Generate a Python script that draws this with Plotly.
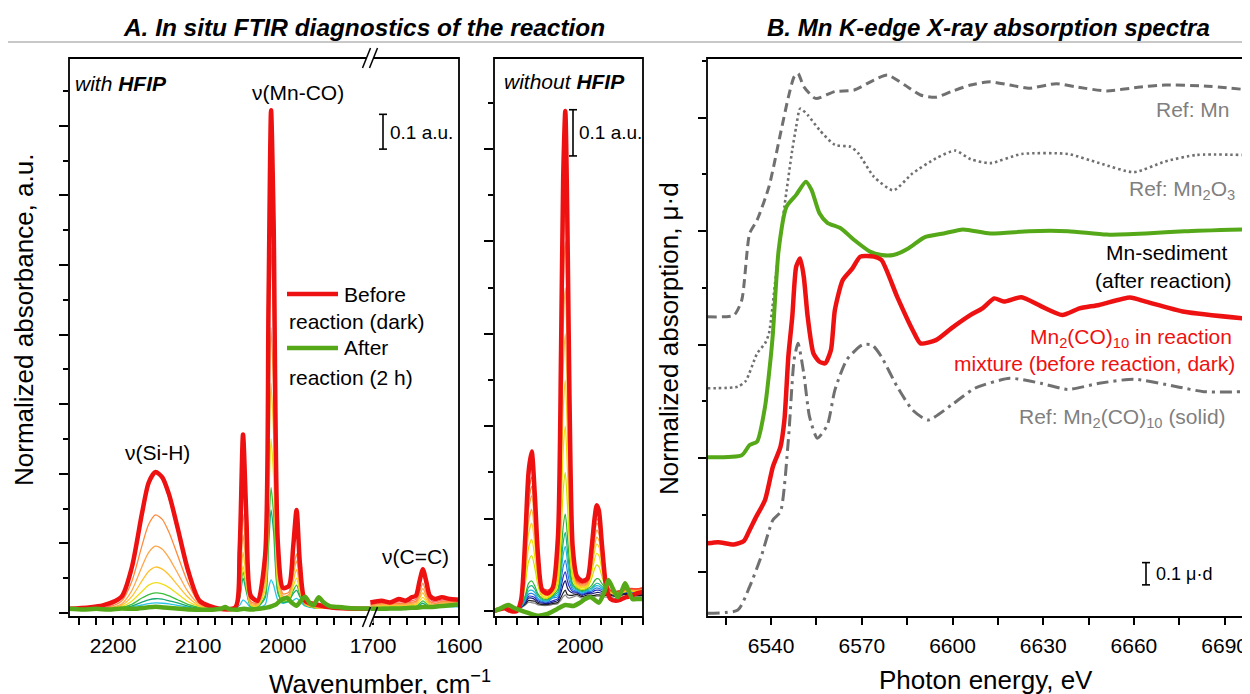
import plotly.graph_objects as go

W, H = 1250, 694
OFF = 8  # browser body margin compensation
FONT = "Liberation Sans, Arial, sans-serif"

# ---------------- Panel A (with HFIP): 2252-1898 cm-1 segment ----------------
WN_A = [2252, 2212, 2190, 2178, 2166, 2158, 2150, 2142, 2134, 2124, 2112, 2098, 2075, 2056, 2051,
        2047, 2043, 2038, 2030, 2021, 2017, 2014, 2011, 2006, 2000, 1993, 1988, 1984, 1980, 1974,
        1962, 1940, 1898]
A_BEFORE = [.012, .022, .047, .13, .285, .375, .405, .39, .34, .245, .125, .035, .012, .016, .18,
            .513, .27, .05, .035, .165, .89, 1.445, 1.12, .2, .072, .078, .19, .296, .14, .035,
            .025, .015, .012]
A_T1 = [.012, .013, .043, .125, .273, .363, .402, .383, .328, .234, .121, .032, .012, .014, .165,
        .485, .253, .042, .033, .157, .847, 1.38, 1.065, .194, .07, .075, .182, .28, .132, .03,
        .02, .013, .012]
A_T2 = [.012, .013, .034, .09, .193, .255, .282, .269, .231, .166, .088, .028, .012, .014, .101,
        .285, .153, .033, .028, .123, .648, 1.05, .812, .15, .055, .06, .123, .17, .088, .028,
        .018, .013, .012]
A_T3 = [.012, .013, .026, .064, .133, .174, .192, .183, .158, .115, .062, .024, .012, .014, .082,
        .225, .123, .029, .025, .099, .509, .82, .636, .122, .048, .053, .108, .15, .08, .027,
        .017, .013, .012]
A_T4 = [.012, .013, .022, .047, .092, .12, .132, .126, .109, .08, .046, .02, .012, .014, .066,
        .175, .098, .025, .022, .081, .411, .66, .513, .101, .042, .047, .092, .125, .07, .026,
        .016, .013, .012]
A_T5 = [.012, .013, .018, .034, .062, .08, .087, .083, .073, .055, .033, .018, .012, .014, .053,
        .135, .078, .022, .02, .065, .315, .5, .39, .081, .036, .041, .076, .1, .06, .025,
        .015, .013, .012]
A_T6 = [.012, .013, .016, .025, .043, .053, .058, .056, .049, .038, .025, .016, .012, .014, .048,
        .119, .07, .02, .018, .05, .23, .36, .283, .064, .032, .037, .064, .08, .052, .024,
        .015, .013, .012]
A_T7 = [.012, .013, .014, .02, .031, .038, .041, .04, .035, .029, .02, .014, .012, .014, .042,
        .1, .06, .019, .017, .044, .192, .296, .233, .057, .03, .035, .056, .065, .046, .023,
        .015, .013, .012]
A_T8 = [.012, .013, .013, .017, .023, .027, .029, .028, .026, .022, .017, .013, .012, .014, .022,
        .038, .03, .015, .015, .024, .071, .095, .08, .037, .028, .032, .036, .042, .034, .02,
        .014, .013, .012]
A_THIN = [A_T1, A_T2, A_T3, A_T4, A_T5, A_T6, A_T7, A_T8]
A_THIN_COLORS = ['#ff6b6b', '#ff8a3c', '#ffa54a', '#ffc22e', '#f0de1c', '#3cbf3c', '#15a870', '#2ac4e6']

WN_A_AFTER = [2252, 2235, 2220, 2205, 2190, 2175, 2160, 2150, 2140, 2125, 2110, 2095, 2080, 2072,
              2068, 2064, 2055, 2046, 2038, 2028, 2018, 2013, 2008, 2002, 1995, 1990, 1984, 1979,
              1974, 1969, 1964, 1958, 1952, 1945, 1935, 1920, 1898]
A_AFTER = [.012, .01, .012, .01, .013, .012, .016, .018, .016, .013, .01, .009, .01, .013, .017,
           .012, .009, .012, .01, .012, .016, .02, .025, .038, .043, .03, .021, .035, .047, .03,
           .022, .045, .03, .02, .017, .014, .013]

# ---------------- Panel A (with HFIP): 1703-1600 cm-1 segment ----------------
WN_B = [1703, 1690, 1680, 1670, 1662, 1655, 1650, 1646, 1642, 1638, 1634, 1628, 1620, 1610, 1600]
B_BEFORE = [.03, .035, .03, .04, .035, .045, .05, .09, .126, .09, .05, .04, .045, .04, .038]
B_T1 = [.027, .032, .032, .032, .032, .035, .04, .078, .115, .074, .04, .032, .037, .037, .037]
B_T2 = [.023, .028, .028, .028, .028, .031, .034, .059, .085, .057, .034, .028, .033, .033, .033]
B_T3 = [.02, .025, .025, .025, .025, .028, .03, .05, .07, .048, .03, .025, .03, .03, .03]
B_T4 = [.017, .022, .022, .022, .022, .025, .026, .042, .058, .04, .026, .022, .027, .027, .027]
B_T5 = [.015, .02, .02, .02, .02, .023, .023, .034, .045, .033, .023, .02, .025, .025, .025]
B_T6 = [.013, .018, .018, .018, .018, .021, .02, .027, .035, .027, .02, .018, .023, .023, .023]
B_T7 = [.012, .016, .016, .016, .016, .018, .017, .023, .028, .022, .017, .016, .02, .02, .02]
B_T8 = [.012, .015, .015, .015, .015, .016, .016, .018, .02, .018, .016, .015, .018, .018, .018]
B_THIN = [B_T1, B_T2, B_T3, B_T4, B_T5, B_T6, B_T7, B_T8]
B_AFTER = [.012, .012, .013, .013, .014, .015, .015, .016, .017, .017, .017, .018, .02, .022, .025]

# ---------------- Panel A (without HFIP) ----------------
WN_M = [2082, 2076, 2072, 2066, 2060, 2056, 2052, 2049, 2046, 2043, 2040, 2036, 2031, 2026, 2021,
        2018, 2016, 2014, 2012, 2010, 2007, 2003, 1998, 1993, 1989, 1986, 1984, 1982, 1979, 1975,
        1971, 1966, 1961, 1956, 1951, 1946, 1940]
M_BEFORE = [0, .004, .006, 0, 0, .025, .165, .3, .345, .25, .12, .045, .038, .05, .16, .57, .94,
            1.082, .84, .46, .14, .075, .065, .07, .135, .203, .229, .217, .141, .052, .026, .022,
            .025, .03, .033, .038, .042]
M_LEAD = [.002, .006, .01, .004, .003]
M1 = [.035, .152, .279, .32, .236, .125, .051, .045, .053, .145, .533, .87, 1.0, .77, .431, .135, .067, .062, .066, .126, .186, .21, .2, .139, .067, .045, .042, .045, .048, .049, .048, .05]
M2 = [.032, .138, .253, .29, .214, .114, .049, .043, .051, .133, .481, .783, .9, .693, .39, .126, .065, .06, .064, .12, .178, .2, .191, .133, .065, .044, .041, .044, .047, .048, .048, .05]
M3 = [.03, .129, .236, .27, .2, .107, .046, .041, .049, .121, .429, .696, .8, .616, .349, .116, .063, .058, .062, .115, .169, .19, .181, .127, .063, .043, .04, .043, .046, .047, .047, .049]
M4 = [.029, .12, .219, .25, .186, .1, .044, .039, .047, .109, .377, .609, .7, .539, .308, .107, .061, .056, .06, .107, .156, .175, .167, .118, .06, .042, .039, .042, .045, .046, .046, .048]
M5 = [.026, .106, .193, .22, .164, .089, .04, .036, .044, .096, .324, .522, .6, .462, .267, .098, .059, .054, .058, .1, .143, .16, .153, .109, .057, .041, .038, .041, .044, .045, .045, .047]
M6 = [.023, .092, .167, .19, .142, .078, .037, .033, .041, .083, .272, .435, .5, .385, .226, .089, .057, .052, .056, .092, .13, .145, .139, .1, .054, .04, .037, .04, .043, .044, .044, .046]
M7 = [.02, .076, .137, .155, .117, .066, .033, .03, .038, .07, .219, .348, .4, .308, .185, .079, .055, .05, .054, .082, .113, .125, .12, .088, .051, .04, .037, .04, .043, .044, .043, .045]
M8 = [.017, .06, .107, .12, .093, .055, .03, .028, .036, .058, .167, .261, .3, .231, .144, .069, .052, .047, .051, .07, .092, .1, .096, .074, .047, .039, .036, .039, .042, .043, .042, .044]
M9 = [.012, .035, .06, .065, .054, .037, .027, .026, .034, .047, .12, .183, .21, .162, .106, .059, .049, .044, .048, .055, .066, .07, .069, .059, .048, .045, .042, .045, .048, .045, .043, .042]
M10 = [.011, .03, .051, .055, .047, .033, .025, .024, .032, .041, .099, .148, .17, .131, .089, .054, .047, .042, .046, .05, .057, .06, .059, .053, .045, .043, .04, .043, .045, .044, .042, .041]
M11 = [.01, .026, .043, .045, .04, .028, .023, .022, .03, .036, .082, .122, .14, .108, .076, .05, .045, .04, .044, .046, .053, .055, .054, .049, .043, .041, .038, .041, .043, .042, .041, .04]
M12 = [.009, .022, .037, .038, .034, .025, .021, .02, .028, .031, .066, .096, .11, .085, .063, .046, .043, .038, .042, .043, .048, .05, .049, .046, .041, .04, .037, .04, .042, .041, .039, .038]
M13 = [.009, .02, .032, .032, .029, .022, .019, .018, .022, .027, .052, .074, .085, .065, .052, .042, .041, .036, .04, .04, .044, .045, .045, .042, .039, .038, .035, .038, .04, .04, .038, .037]
M14 = [.008, .018, .028, .028, .025, .019, .017, .016, .019, .023, .041, .057, .065, .05, .043, .039, .039, .034, .038, .037, .039, .04, .04, .038, .036, .036, .033, .036, .038, .038, .036, .036]
M15 = [.008, .015, .023, .022, .021, .016, .014, .014, .016, .019, .03, .039, .045, .035, .034, .034, .036, .031, .035, .033, .034, .035, .035, .034, .034, .034, .031, .034, .036, .036, .034, .034]
M16 = [.007, .013, .019, .018, .017, .013, .012, .012, .014, .016, .024, .031, .035, .029, .028, .03, .033, .028, .032, .029, .031, .032, .032, .031, .03, .03, .027, .03, .032, .033, .031, .032]
M_THIN = [M1, M2, M3, M4, M5, M6, M7, M8, M9, M10, M11, M12, M13, M14, M15, M16]
M_THIN_COLORS = ['#ff3d2e', '#ff5a2e', '#ff7a33', '#ff9a3a', '#ffb02e', '#ffcc1f', '#f0dc00', '#cfe000',
                 '#2fb52f', '#17b38a', '#1fb8e0', '#2a7de0', '#2233c8', '#16166e', '#222222', '#888888']

WN_M_AFTER = [2082, 2077, 2072, 2068, 2064, 2060, 2051, 2041, 2032, 2022, 2014, 2006, 2000, 1995,
              1990, 1986, 1982, 1977, 1973, 1968, 1964, 1960, 1957, 1953, 1950, 1945, 1940]
M_AFTER = [0.0, .004, .01, .013, .008, .004, -.003, -.01, -.007, .004, .013, .011, .018, .026, .03,
           .024, .018, .04, .067, .045, .03, .045, .06, .04, .026, .026, .026]

# ---------------- Panel B: Mn K-edge XAS (stacked, 0.1 unit = 0.1 mu*d) ----------------
E_MN = [6519, 6527.7, 6530.3, 6532.9, 6535.4, 6539.3, 6543.1, 6545.7, 6547.6, 6548.9, 6550.8, 6554.7,
        6561.1, 6567.5, 6574, 6578.5, 6584.2, 6589.4, 6594.5, 6599.6, 6606, 6612.5, 6618.9, 6625.3,
        6634.3, 6640.7, 6651, 6661.3, 6670.3, 6683.1, 6696]
MU_MN = [1.123, 1.13, 1.197, 1.49, 1.55, 1.696, 1.93, 2.09, 2.18, 2.195, 2.137, 2.085, 2.115, 2.122,
         2.166, 2.188, 2.144, 2.1, 2.09, 2.115, 2.144, 2.158, 2.144, 2.13, 2.15, 2.136, 2.118, 2.134,
         2.144, 2.14, 2.125]
E_MN2O3 = [6519, 6529, 6531.6, 6535.4, 6538, 6539.3, 6541.9, 6544.4, 6547, 6548.3, 6549.6, 6552.1,
           6556, 6561.1, 6566.3, 6568.8, 6574, 6580.4, 6586.8, 6594.5, 6600.9, 6606, 6612.5, 6622.8,
           6638.2, 6648.5, 6660, 6670.3, 6680.6, 6696]
MU_MN2O3 = [0.808, 0.815, 0.84, 0.962, 1.006, 1.05, 1.344, 1.608, 1.858, 1.96, 2.04, 2.012, 1.946,
            1.88, 1.872, 1.844, 1.74, 1.68, 1.755, 1.821, 1.855, 1.817, 1.8, 1.84, 1.84, 1.8, 1.76,
            1.807, 1.836, 1.836]
E_SED = [6519, 6530.3, 6532.9, 6535.4, 6538, 6539.9, 6540.6, 6542.5, 6545.1, 6548.3, 6551.5, 6553.4,
         6556, 6558.6, 6563, 6567.5, 6572.7, 6576.5, 6580.4, 6585.5, 6590.7, 6597.1, 6603.5, 6612.5,
         6625.3, 6638.2, 6651, 6663.9, 6676.7, 6696]
MU_SED = [0.504, 0.513, 0.558, 0.574, 0.727, 0.947, 1.05, 1.417, 1.608, 1.66, 1.718, 1.681, 1.579,
          1.537, 1.513, 1.461, 1.41, 1.395, 1.395, 1.425, 1.473, 1.49, 1.508, 1.49, 1.5, 1.5, 1.485,
          1.49, 1.5, 1.508]
E_RXN = [6519, 6522.5, 6527.7, 6531, 6532.9, 6534.8, 6538, 6540.6, 6543.1, 6544.4, 6545.7, 6547,
         6548.3, 6549.6, 6550.8, 6552.1, 6554, 6556, 6557.9, 6559.8, 6561.1, 6563.7, 6566.9, 6569.5,
         6574, 6576.5, 6581.7, 6586.8, 6589.4, 6594.5, 6599.6, 6606, 6609.9, 6613.8, 6617, 6622.8,
         6629.2, 6636.3, 6642, 6648.5, 6658.7, 6663.9, 6676.7, 6696]
MU_RXN = [0.125, 0.13, 0.12, 0.135, 0.184, 0.235, 0.316, 0.463, 0.55, 0.668, 0.947, 1.123, 1.344,
          1.38, 1.3, 1.123, 0.962, 0.925, 0.918, 0.977, 1.153, 1.285, 1.336, 1.388, 1.388, 1.373,
          1.211, 1.065, 1.006, 1.02, 1.072, 1.131, 1.16, 1.204, 1.19, 1.209, 1.17, 1.131, 1.16,
          1.175, 1.208, 1.19, 1.145, 1.116]
E_CO = [6519, 6529, 6532.9, 6536.7, 6540.6, 6543.1, 6545.7, 6547.6, 6548.9, 6550.8, 6552.7, 6555.3,
        6558.6, 6561.1, 6565, 6570.1, 6573.4, 6576.5, 6581.7, 6586.8, 6591.9, 6599.6, 6607.4,
        6618.9, 6629.2, 6638.2, 6648.5, 6660, 6674.2, 6683.1, 6696]
MU_CO = [-0.183, -0.169, -0.066, 0.066, 0.228, 0.264, 0.58, 0.933, 1.006, 0.874, 0.683, 0.588, 0.646,
         0.8, 0.933, 0.999, 0.999, 0.947, 0.815, 0.712, 0.668, 0.734, 0.808, 0.852, 0.83, 0.803,
         0.83, 0.848, 0.815, 0.793, 0.793]

RED = '#ee1111'
GREEN = '#55a818'
GRAY = '#707070'

fig = go.Figure()


def add(x, y, xa, ya, color, width, dash=None, smooth=0.7):
    fig.add_trace(go.Scatter(x=x, y=y, xaxis=xa, yaxis=ya, mode='lines',
                             line=dict(color=color, width=width, shape='spline',
                                       smoothing=smooth, dash=dash),
                             hoverinfo='skip', showlegend=False))


for ys, ys2, c in reversed(list(zip(A_THIN, B_THIN, A_THIN_COLORS))):
    add(WN_A, ys, 'x', 'y', c, 1.3)
    add(WN_B, ys2, 'x2', 'y', c, 1.3)
add(WN_A, A_BEFORE, 'x', 'y', RED, 4.5)
add(WN_B, B_BEFORE, 'x2', 'y', RED, 4.5)
add(WN_A_AFTER, A_AFTER, 'x', 'y', GREEN, 4.5)
add(WN_B, B_AFTER, 'x2', 'y', GREEN, 4.5)

for ys, c in reversed(list(zip(M_THIN, M_THIN_COLORS))):
    add(WN_M, M_LEAD + ys, 'x3', 'y2', c, 1.2)
add(WN_M, M_BEFORE, 'x3', 'y2', RED, 4.5)
add(WN_M_AFTER, M_AFTER, 'x3', 'y2', GREEN, 4.5)

add(E_MN, MU_MN, 'x4', 'y3', GRAY, 3, dash='9px,5px', smooth=0.6)
add(E_MN2O3, MU_MN2O3, 'x4', 'y3', GRAY, 2.6, dash='2.5px,3px', smooth=0.6)
add(E_SED, MU_SED, 'x4', 'y3', GREEN, 4, smooth=0.6)
add(E_RXN, MU_RXN, 'x4', 'y3', RED, 4.5, smooth=0.6)
add(E_CO, MU_CO, 'x4', 'y3', GRAY, 3, dash='12px,5px,3px,5px', smooth=0.6)


def pxx(x):
    return (x - OFF) / W


def pyy(y):
    return 1 - (y - OFF) / H


YDOM = [pyy(617), pyy(58)]
TICKFONT = dict(family=FONT, size=21, color='black')


def xax(d0, d1, rng, vals, minor_vals, anchor):
    return dict(domain=[pxx(d0), pxx(d1)], range=rng, anchor=anchor, tickmode='array',
                tickvals=vals, ticktext=[str(v) for v in vals], ticks='outside', ticklen=7,
                tickwidth=1.5, tickcolor='black', showgrid=False, zeroline=False, showline=False,
                automargin=False, tickfont=TICKFONT, ticklabelstandoff=3,
                minor=dict(tickmode='array', tickvals=minor_vals, ticks='outside', ticklen=7,
                           tickwidth=1.5, tickcolor='black', showgrid=False))


def yax(rng, dt, mdt, anchor, mlen=5, len_=9):
    return dict(domain=YDOM, range=rng, anchor=anchor, tickmode='linear', tick0=0, dtick=dt,
                ticks='outside', ticklen=len_, tickwidth=1.5, tickcolor='black',
                showticklabels=False, showgrid=False, zeroline=False, showline=False,
                automargin=False,
                minor=dict(tickmode='linear', tick0=0, dtick=mdt, ticks='outside', ticklen=mlen,
                           tickwidth=1.5, tickcolor='black', showgrid=False))


A_MAJOR = [2200, 2100, 2000]
A_MINOR = [2240, 2220, 2180, 2160, 2140, 2120, 2080, 2060, 2040, 2020, 1980, 1960, 1940, 1920]
B_MAJOR = [1700, 1600]
B_MINOR = [1680, 1660, 1640, 1620]
M_MAJOR = [2000]
M_MINOR = [2080, 2060, 2040, 2020, 1980, 1960, 1940]
E_MAJOR = [6540, 6570, 6600, 6630, 6660, 6690]
E_MINOR = [6525, 6555, 6585, 6615, 6645, 6675]

fig.update_layout(
    template='none',
    width=W, height=H, margin=dict(l=0, r=0, t=0, b=0, pad=0, autoexpand=False),
    paper_bgcolor='white', plot_bgcolor='white', showlegend=False,
    font=dict(family=FONT, color='black'),
    xaxis=xax(69, 370, [2251.8, 1897.6], A_MAJOR, A_MINOR, 'y'),
    xaxis2=xax(370, 459, [1703.5, 1600], B_MAJOR, B_MINOR, 'y'),
    xaxis3=xax(494, 643, [2081.9, 1940], M_MAJOR, M_MINOR, 'y2'),
    xaxis4=xax(707, 1244, [6518.8, 6696.4], E_MAJOR, E_MINOR, 'y3'),
    yaxis=yax([(613 - 617) / 348, (613 - 58) / 348], 0.2, 0.1, 'x'),
    yaxis2=yax([(611 - 617) / 462, (611 - 58) / 462], 0.2, 0.1, 'x3'),
    yaxis3=yax([(571.7 - 617) / 227, (571.7 - 58) / 227], 0.5, 0.25, 'x4', mlen=4, len_=8),
)

shapes = []
for x0, x1 in [(69, 459), (494, 643), (707, 1244)]:
    shapes.append(dict(type='rect', xref='paper', yref='paper', x0=pxx(x0), x1=pxx(x1),
                       y0=pyy(617), y1=pyy(58), line=dict(color='black', width=1.8),
                       fillcolor='rgba(0,0,0,0)', layer='above'))
for yc in (58, 617):
    shapes.append(dict(type='rect', xref='paper', yref='paper', x0=pxx(366.5), x1=pxx(373.5),
                       y0=pyy(yc + 6), y1=pyy(yc - 6), line=dict(width=0), fillcolor='white',
                       layer='above'))
    for dx in (-3.5, 3.5):
        shapes.append(dict(type='line', xref='paper', yref='paper',
                           x0=pxx(370 + dx - 4), y0=pyy(yc + 10), x1=pxx(370 + dx + 4), y1=pyy(yc - 10),
                           line=dict(color='black', width=1.5), layer='above'))
shapes.append(dict(type='line', xref='paper', yref='paper', x0=pxx(8), x1=pxx(1258), y0=pyy(42), y1=pyy(42),
                   line=dict(color='#c8c8c8', width=2)))


def scalebar(xc, yref, y0, y1):
    shapes.append(dict(type='line', xref='paper', yref=yref, x0=pxx(xc), x1=pxx(xc), y0=y0, y1=y1,
                       line=dict(color='black', width=1.6)))
    for yy in (y0, y1):
        shapes.append(dict(type='line', xref='paper', yref=yref, x0=pxx(xc - 4), x1=pxx(xc + 4),
                           y0=yy, y1=yy, line=dict(color='black', width=1.6)))


scalebar(383, 'y', 1.333, 1.433)
scalebar(573, 'y2', 0.985, 1.085)
scalebar(1146, 'y3', -0.058, 0.04)
for yy, c in ((294, RED), (348, GREEN)):
    shapes.append(dict(type='line', xref='paper', yref='paper', x0=pxx(287), x1=pxx(338),
                       y0=pyy(yy), y1=pyy(yy), line=dict(color=c, width=4.5)))
fig.update_layout(shapes=shapes)

anns = []


def ann(text, x, y, xanchor='center', size=21, color='black', angle=0):
    anns.append(dict(text=text, x=pxx(x), y=pyy(y), xref='paper', yref='paper', xanchor=xanchor,
                     yanchor='middle', showarrow=False, textangle=angle,
                     font=dict(family=FONT, size=size, color=color)))


ann('<b><i>A. In situ FTIR diagnostics of the reaction</i></b>', 364, 27, size=24.4)
ann('<b><i>B. Mn K-edge X-ray absorption spectra</i></b>', 988, 27, size=24)
ann('<i>with <b>HFIP</b></i>', 73, 83, 'left')
ann('<i>without <b>HFIP</b></i>', 502, 82, 'left')
ann('ν(Mn-CO)', 298, 92)
ann('ν(Si-H)', 157, 452)
ann('ν(C=C)', 415, 556)
ann('0.1 a.u.', 388, 132, 'left', size=19)
ann('0.1 a.u.', 577, 132, 'left', size=19)
ann('0.1 μ·d', 1154, 574, 'left', size=18)
ann('Before', 342, 294, 'left')
ann('reaction (dark)', 287, 321, 'left')
ann('After', 342, 348, 'left')
ann('reaction (2 h)', 287, 377, 'left')
ann('Ref: Mn', 1232, 109, 'right', color='#7f7f7f')
ann('Ref: Mn<sub>2</sub>O<sub>3</sub>', 1237, 190, 'right', color='#7f7f7f')
ann('Mn-sediment', 1230, 253, 'right')
ann('(after reaction)', 1234, 280, 'right')
ann('Mn<sub>2</sub>(CO)<sub>10</sub> in reaction', 1234, 338, 'right', color=RED)
ann('mixture (before reaction, dark)', 1237, 363, 'right', color=RED)
ann('Ref: Mn<sub>2</sub>(CO)<sub>10</sub> (solid)', 1228, 418, 'right', color='#7f7f7f')
ann('Wavenumber, cm<sup>−1</sup>', 380, 682, size=26)
ann('Photon energy, eV', 986, 680, size=26)
ann('Normalized absorbance, a.u.', 24, 320, size=26, angle=-90)
ann('Normalized absorption, μ·d', 669, 339, size=26, angle=-90)
fig.update_layout(annotations=anns)

fig.write_html("out.html")
